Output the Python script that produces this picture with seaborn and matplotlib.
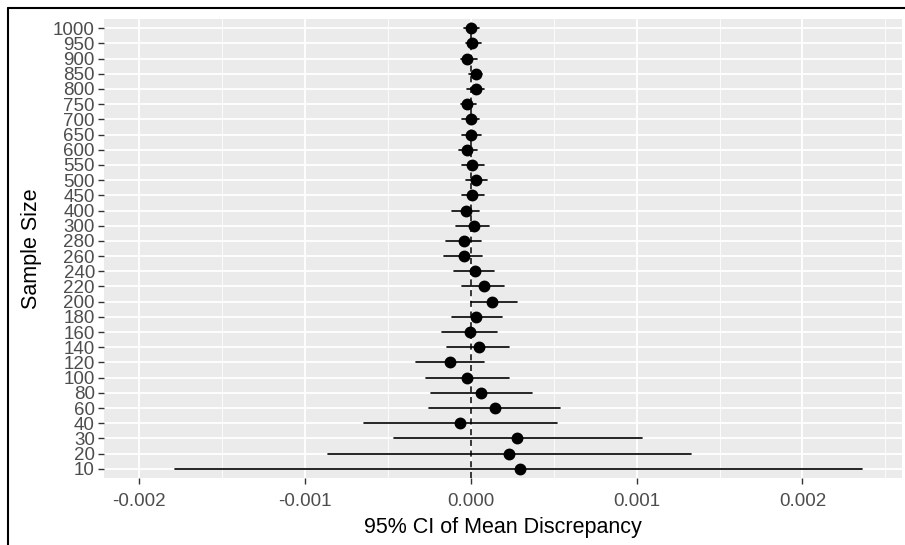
import seaborn as sns
import pandas as pd
import numpy as np
import matplotlib.pyplot as plt
from matplotlib.ticker import MultipleLocator, FixedLocator
from matplotlib.lines import Line2D


# values (mean discrepancy with 95% CI per sample size)
sizes = [10, 20, 30, 40, 60, 80, 100, 120, 140, 160, 180, 200, 220, 240, 260,
         280, 300, 400, 450, 500, 550, 600, 650, 700, 750, 800, 850, 900, 950, 1000]
mean = [0.000295, 0.00023, 0.00028, -0.000066, 0.000145, 0.00006, -0.00002, -0.000127,
        0.00005, -0.000005, 0.00003, 0.00013, 0.00008, 0.000025, -0.00004, -0.00004,
        0.00002, -0.00003, 0.00001, 0.00003, 0.00001, -0.00002, 0.0, 0.0, -0.00002,
        0.00003, 0.00003, -0.00002, 0.00001, 0.0]
lower = [-0.00178, -0.00086, -0.00046, -0.00064, -0.00025, -0.00024, -0.00027, -0.00033,
         -0.00014, -0.00017, -0.00011, 0.0, -0.00005, -0.0001, -0.00016, -0.00015,
         -0.00009, -0.00011, -0.00005, -0.00003, -0.00005, -0.00007, -0.00005, -0.00005,
         -0.00006, -0.00002, -0.00001, -0.00006, -0.00003, -0.00004]
upper = [0.00236, 0.00133, 0.00103, 0.00052, 0.00054, 0.00037, 0.00023, 0.00008,
         0.00023, 0.00016, 0.00019, 0.00028, 0.0002, 0.00014, 0.00007, 0.00006,
         0.00011, 0.00005, 0.00008, 0.0001, 0.00008, 0.00004, 0.00006, 0.00005,
         0.00003, 0.00008, 0.00007, 0.00004, 0.00006, 0.00005]
x_ticks = [-0.002, -0.001, 0.0, 0.001, 0.002]
x_tick_labels = ['-0.002', '-0.001', '0.000', '0.001', '0.002']

# long format: lower / mean / upper per size -> median = mean, 100% interval = CI
labels = [str(s) for s in sizes]
df = pd.DataFrame({
    'size': labels * 3,
    'value': lower + mean + upper,
})
order = labels[::-1]

sns.set_theme(style='darkgrid', rc={
    'axes.facecolor': '#EBEBEB',
    'grid.color': 'white',
    'axes.edgecolor': '#EBEBEB',
})
plt.rcParams['font.family'] = ['Liberation Sans', 'DejaVu Sans']

fig = plt.figure(figsize=(9.05, 5.45), dpi=100)
ax = fig.add_axes([104 / 905, 1 - 478 / 545, (902 - 104) / 905, (478 - 19) / 545])

ax.axvline(0, color='black', linewidth=1.1, linestyle=(0, (4, 3)), zorder=1)
sns.pointplot(
    data=df, x='value', y='size', order=order,
    estimator='median', errorbar=('pi', 100),
    linestyle='none', marker='o', markersize=6.5,
    color='black', err_kws={'linewidth': 1.2},
    ax=ax,
)

ax.set_xlim(-0.00221, 0.0026)
ax.set_ylim(len(order) - 0.4, -0.6)
ax.xaxis.set_major_locator(FixedLocator(x_ticks))
ax.set_xticklabels(x_tick_labels)
ax.xaxis.set_minor_locator(MultipleLocator(0.0005))
ax.grid(which='major', color='white', linewidth=1.3)
ax.grid(which='minor', axis='x', color='white', linewidth=0.6)

ax.tick_params(axis='both', which='major', labelsize=13.5, labelcolor='#4D4D4D',
               length=4.5, width=1, color='#333333', bottom=True, left=True)
ax.tick_params(axis='x', which='major', pad=6)
ax.tick_params(axis='y', which='major', pad=2)
ax.tick_params(axis='x', which='minor', length=0)
ax.set_xlabel('95% CI of Mean Discrepancy', fontsize=15.5, color='black', labelpad=5)
ax.set_ylabel('Sample Size', fontsize=15.5, color='black', labelpad=8)
for s in ax.spines.values():
    s.set_visible(False)

# screenshot frame
fig.add_artist(Line2D([8 / 905, 8 / 905], [0, 1 - 8 / 545], color='black', linewidth=1.5))
fig.add_artist(Line2D([8 / 905, 1], [1 - 8 / 545, 1 - 8 / 545], color='black', linewidth=1.5))

plt.savefig('out.png', dpi=100)
